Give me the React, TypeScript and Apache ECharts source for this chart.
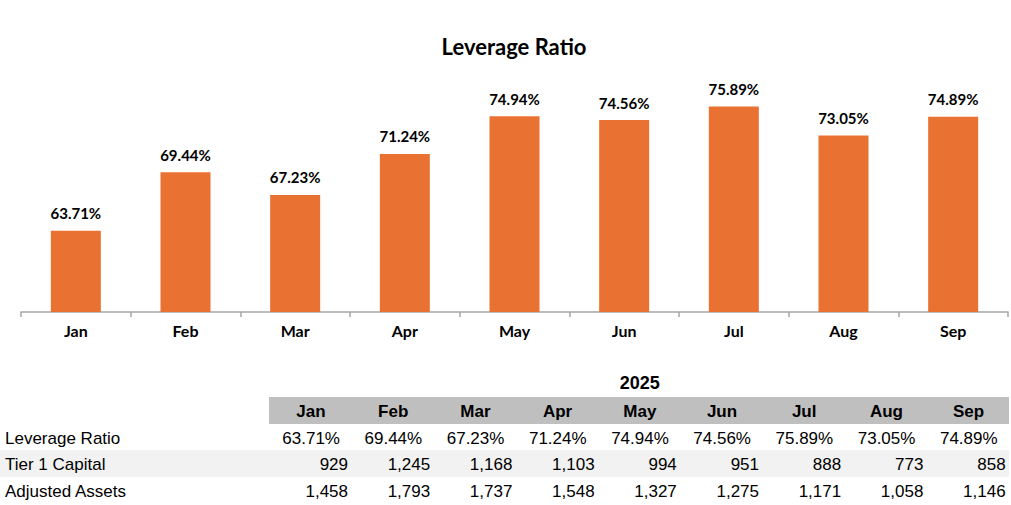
import React, { useEffect, useRef } from "react";
import * as echarts from "echarts";

const months = ["Jan", "Feb", "Mar", "Apr", "May", "Jun", "Jul", "Aug", "Sep"];
const leverageRatio = [63.71, 69.44, 67.23, 71.24, 74.94, 74.56, 75.89, 73.05, 74.89];
const tier1Capital = [929, 1245, 1168, 1103, 994, 951, 888, 773, 858];
const adjustedAssets = [1458, 1793, 1737, 1548, 1327, 1275, 1171, 1058, 1146];
const tableYear = "2025";
const rowLabels = ["Leverage Ratio", "Tier 1 Capital", "Adjusted Assets"];

const fmtPct = (v: number) => v.toFixed(2) + "%";
const fmtNum = (v: number) => v.toLocaleString("en-US");

export default function App() {
  const ref = useRef<HTMLDivElement>(null);
  useEffect(() => {
    document.body.style.margin = "0";
    const chart = echarts.init(ref.current!, null, { renderer: "svg" });

    const tableFont = "'Liberation Sans', Arial, sans-serif";
    const colStep = 82.2;
    const headerCenter0 = 311;
    const numRight0 = 348;
    const pctRight0 = 340;
    const rowY = [438, 464, 491];

    const graphics: any[] = [];
    graphics.push({
      type: "rect",
      shape: { x: 269, y: 397, width: 740, height: 27 },
      style: { fill: "#BFBFBF" },
      z: 1,
    });
    graphics.push({
      type: "rect",
      shape: { x: 0, y: 450, width: 1009, height: 27 },
      style: { fill: "#F2F2F2" },
      z: 1,
    });
    graphics.push({
      type: "text",
      x: headerCenter0 + colStep * 4,
      y: 383,
      style: {
        text: tableYear,
        font: `bold 18px ${tableFont}`,
        fill: "#000",
        textAlign: "center",
        textVerticalAlign: "middle",
      },
      z: 2,
    });
    months.forEach((m, i) => {
      graphics.push({
        type: "text",
        x: headerCenter0 + colStep * i,
        y: 411,
        style: {
          text: m,
          font: `bold 17px ${tableFont}`,
          fill: "#000",
          textAlign: "center",
          textVerticalAlign: "middle",
        },
        z: 2,
      });
    });
    rowLabels.forEach((l, r) => {
      graphics.push({
        type: "text",
        x: 5,
        y: rowY[r],
        style: {
          text: l,
          font: `17px ${tableFont}`,
          fill: "#000",
          textAlign: "left",
          textVerticalAlign: "middle",
        },
        z: 2,
      });
    });
    const rows = [leverageRatio.map(fmtPct), tier1Capital.map(fmtNum), adjustedAssets.map(fmtNum)];
    rows.forEach((vals, r) => {
      vals.forEach((v, i) => {
        graphics.push({
          type: "text",
          x: (r === 0 ? pctRight0 : numRight0) + colStep * i,
          y: rowY[r],
          style: {
            text: v,
            font: `17px ${tableFont}`,
            fill: "#000",
            textAlign: "right",
            textVerticalAlign: "middle",
          },
          z: 2,
        });
      });
    });

    chart.setOption({
      animation: false,
      title: {
        text: "Leverage Ratio",
        left: 509,
        top: 30,
        textAlign: "center",
        textStyle: { fontFamily: "Lato", fontWeight: "bold", fontSize: 22, color: "#000" },
      },
      grid: { left: 21, right: 3, top: 64.6, bottom: 193, containLabel: false },
      xAxis: {
        type: "category",
        data: months,
        axisLine: { lineStyle: { color: "#A6A6A6", width: 1.5 } },
        axisTick: { show: true, length: 5, lineStyle: { color: "#A6A6A6", width: 1.5 } },
        axisLabel: {
          fontFamily: "Lato",
          fontWeight: "bold",
          fontSize: 16,
          color: "#000",
          margin: 10,
        },
      },
      yAxis: {
        type: "value",
        min: 55.75,
        max: 80,
        show: false,
        splitLine: { show: false },
      },
      series: [
        {
          type: "bar",
          data: leverageRatio,
          barWidth: 50,
          itemStyle: { color: "#E97132" },
          label: {
            show: true,
            position: "top",
            distance: 10,
            formatter: (p: any) => fmtPct(p.value),
            fontFamily: "Lato",
            fontWeight: "bold",
            fontSize: 15,
            color: "#000",
          },
        },
      ],
      graphic: graphics,
    });
    return () => chart.dispose();
  }, []);
  return <div ref={ref} style={{ width: 1011, height: 505 }} />;
}
